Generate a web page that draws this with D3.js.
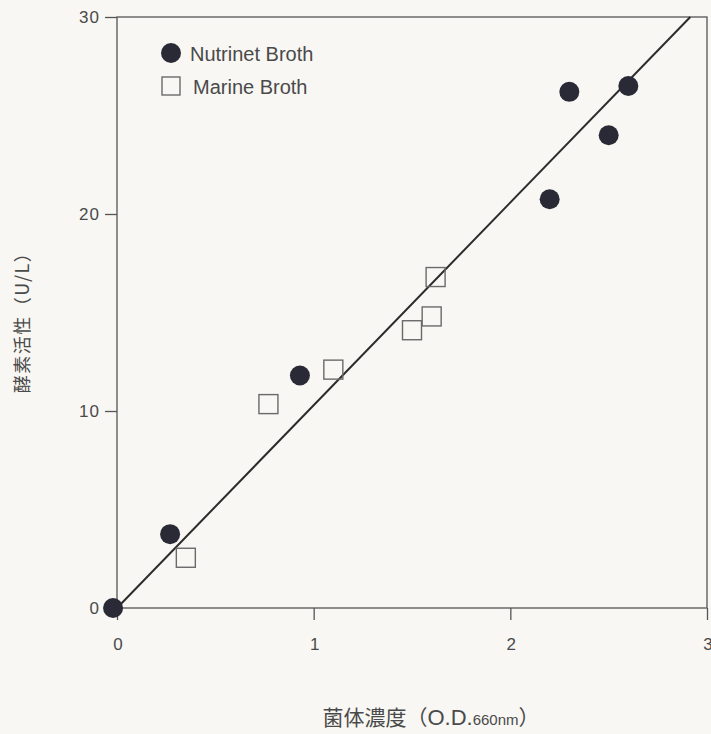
<!DOCTYPE html>
<html>
<head>
<meta charset="utf-8">
<script src="https://cdn.jsdelivr.net/npm/d3@7"></script>
<style>
  body { margin: 0; background: #f8f7f3; }
  svg { display: block; }
  text { font-family: "Liberation Sans", Arial, sans-serif; fill: #4a4a4a; }
  .jp { font-family: "Noto Sans CJK JP", sans-serif; }
</style>
</head>
<body>
<svg id="chart" width="711" height="734"></svg>
<script>
// data
var nutrientX = [-0.02, 0.27, 0.93, 2.20, 2.30, 2.50, 2.60];
var nutrientY = [0.0, 3.75, 11.8, 20.75, 26.2, 24.0, 26.5];
var marineX = [0.35, 0.77, 1.10, 1.50, 1.60, 1.62];
var marineY = [2.55, 10.35, 12.1, 14.1, 14.8, 16.8];
var fitX = [0, 2.915];
var fitY = [0, 30];
var xTicks = [0, 1, 2, 3];
var yTicks = [0, 10, 20, 30];

var svg = d3.select("#chart");

var x = d3.scaleLinear().domain([0, 3]).range([117, 707]);
var y = d3.scaleLinear().domain([0, 30]).range([608, 17]);

// frame
svg.append("rect")
    .attr("x", x(0)).attr("y", y(30))
    .attr("width", x(3) - x(0)).attr("height", y(0) - y(30))
    .attr("fill", "none").attr("stroke", "#555").attr("stroke-width", 1.3);

// axes, ticks outward
var xAxis = svg.append("g")
    .attr("transform", "translate(0," + y(0) + ")")
    .call(d3.axisBottom(x).tickValues(xTicks).tickSize(12).tickPadding(30).tickFormat(d3.format("d")));
var yAxis = svg.append("g")
    .attr("transform", "translate(" + x(0) + ",0)")
    .call(d3.axisLeft(y).tickValues(yTicks).tickSize(12).tickPadding(5).tickFormat(d3.format("d")));

[xAxis, yAxis].forEach(function(g) {
    g.select(".domain").remove();
    g.selectAll("line").attr("stroke", "#555").attr("stroke-width", 1.3);
    g.selectAll("text")
        .style("font-family", "'Liberation Sans', Arial, sans-serif")
        .style("font-size", "17px")
        .style("letter-spacing", "1px")
        .attr("fill", "#5a5a5a");
});
xAxis.selectAll("text").attr("dy", "0").attr("dx", "1");

// regression line
svg.append("line")
    .attr("x1", x(fitX[0])).attr("y1", y(fitY[0]))
    .attr("x2", x(fitX[1])).attr("y2", y(fitY[1]))
    .attr("stroke", "#2b2b2b").attr("stroke-width", 2);

// Marine Broth - open squares
var sq = 19;
svg.selectAll(".marine")
    .data(d3.zip(marineX, marineY))
    .enter()
    .append("rect")
    .attr("class", "marine")
    .attr("x", function(d) { return x(d[0]) - sq / 2; })
    .attr("y", function(d) { return y(d[1]) - sq / 2; })
    .attr("width", sq).attr("height", sq)
    .attr("fill", "none")
    .attr("stroke", "#6a6a6a")
    .attr("stroke-width", 1.4);

// Nutrinet Broth - filled dots
svg.selectAll(".nutrient")
    .data(d3.zip(nutrientX, nutrientY))
    .enter()
    .append("circle")
    .attr("class", "nutrient")
    .attr("cx", function(d) { return x(d[0]); })
    .attr("cy", function(d) { return y(d[1]); })
    .attr("r", 10)
    .attr("fill", "#2a2a36");

// legend
var legend = svg.append("g");
legend.append("circle").attr("cx", 171).attr("cy", 53).attr("r", 10).attr("fill", "#2a2a36");
legend.append("text").attr("x", 190).attr("y", 61).style("font-size", "20px").text("Nutrinet Broth");
legend.append("rect").attr("x", 162).attr("y", 77).attr("width", 18).attr("height", 18)
    .attr("fill", "none").attr("stroke", "#6a6a6a").attr("stroke-width", 1.4);
legend.append("text").attr("x", 193).attr("y", 94).style("font-size", "20px").text("Marine Broth");

// axis titles
var xt = svg.append("text")
    .attr("class", "jp")
    .attr("x", 431).attr("y", 725)
    .attr("text-anchor", "middle")
    .style("font-size", "21px");
xt.append("tspan").text("菌体濃度（");
xt.append("tspan").style("font-family", "'Liberation Sans', Arial, sans-serif").style("font-size", "22px").text("O.D.");
xt.append("tspan").style("font-family", "'Liberation Sans', Arial, sans-serif").style("font-size", "15px").text("660nm");
xt.append("tspan").text("）");

svg.append("text")
    .attr("class", "jp")
    .attr("transform", "translate(29,318) rotate(-90)")
    .attr("text-anchor", "middle")
    .style("font-size", "18px")
    .style("letter-spacing", "1.5px")
    .text("酵素活性（U/L）");
</script>
</body>
</html>
